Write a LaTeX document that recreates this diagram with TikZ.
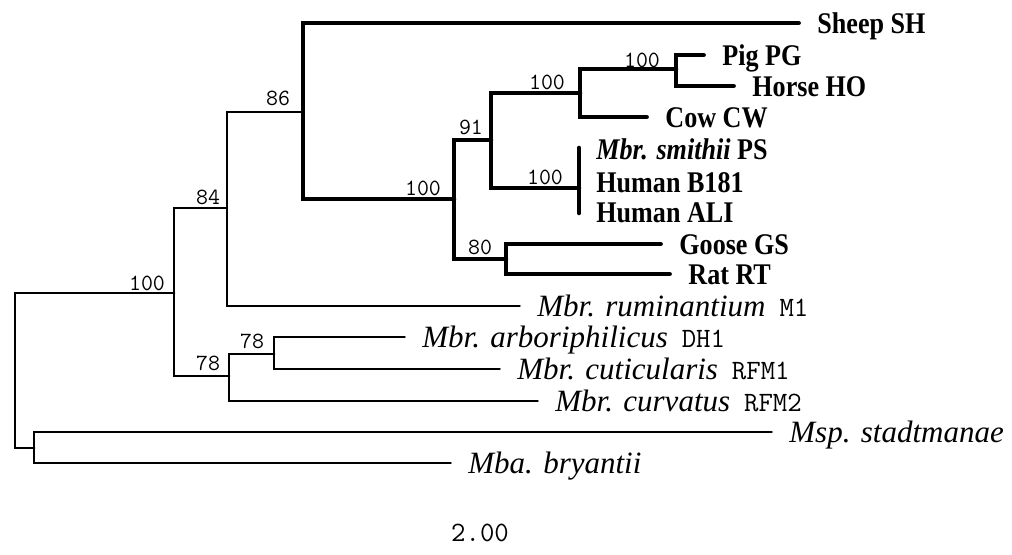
\documentclass[tikz,border=0pt]{standalone}
\usepackage{fontspec}
\setmainfont{Liberation Serif}
\newfontfamily\hostfont[FakeStretch=0.87]{Liberation Serif}
\usepackage{tikz}

\tikzset{
  thinbr/.style={line width=1.4pt, line cap=round},
  thickbr/.style={line width=2.3pt, line cap=round},
  taxon/.style={anchor=west, inner sep=0pt, text height=10pt, text depth=0pt,
    font=\fontsize{15.5pt}{17pt}\selectfont\itshape},
  host/.style={taxon, font=\hostfont\fontsize{15pt}{17pt}\selectfont\bfseries},
  boot/.style={inner sep=0pt, font=\ttfamily\fontsize{11.6pt}{13pt}\selectfont},
}
\newcommand{\strain}[1]{\hspace{0.45em}{\upshape\ttfamily\fontsize{14pt}{16pt}\selectfont #1}}

\begin{document}
\begin{tikzpicture}[x=0.5pt, y=-0.5pt]
    \useasboundingbox (0,0) rectangle (1012,554);
    % branch points
    \coordinate (r) at (15,370);
    \coordinate (a) at (174,293);
    \coordinate (b) at (227,208);
    \coordinate (c) at (303,112);
    \coordinate (d) at (454,199);
    \coordinate (e) at (491,140);
    \coordinate (f) at (580,93);
    \coordinate (k) at (676,69);
    \coordinate (h) at (506,259);
    \coordinate (g) at (229,376);
    \coordinate (i) at (274,354);
    \coordinate (m) at (34,448);
    % polytomy bar
    \coordinate (pm) at (579,188);
    \coordinate (pt) at (579,148);
    \coordinate (pb) at (579,213);

    % host-associated taxa
    \node[host] (sheep) at (817,23) {Sheep SH};
    \node[host] (pig) at (722,55) {Pig PG};
    \node[host] (horse) at (752,86) {Horse HO};
    \node[host] (cow) at (665,117) {Cow CW};
    \node[host] (smithii) at (596,149) {\textit{Mbr. smithii} PS};
    \node[host] (b181) at (596,182) {Human B181};
    \node[host] (ali) at (596,212) {Human ALI};
    \node[host] (goose) at (679,244) {Goose GS};
    \node[host] (rat) at (688,274) {Rat RT};

    % type strains
    \node[taxon] (rum) at (537,306) {Mbr. ruminantium\strain{M1}};
    \node[taxon] (arb) at (422,337) {Mbr. arboriphilicus\strain{DH1}};
    \node[taxon] (cut) at (517,369) {Mbr. cuticularis\strain{RFM1}};
    \node[taxon] (curv) at (555,401) {Mbr. curvatus\strain{RFM2}};
    \node[taxon] (msp) at (789,432) {Msp. stadtmanae};
    \node[taxon] (mba) at (468,463) {Mba. bryantii};

    % thin branches
    \foreach \u/\v in {r/a, r/m, a/b, a/g, b/c, g/i}
      \draw[thinbr] (\u) |- (\v);
    \foreach \u/\v in {b/rum, g/curv, i/arb, i/cut, m/msp, m/mba}
      \draw[thinbr, shorten >=8.7pt] (\u) |- (\v.west);

    % thick branches
    \foreach \u/\v in {c/d, d/e, d/h, e/f, e/pm, f/k}
      \draw[thickbr] (\u) |- (\v);
    \foreach \u/\v in {c/sheep, f/cow, k/pig, k/horse, h/goose, h/rat}
      \draw[thickbr, shorten >=9.2pt] (\u) |- (\v.west);
    \draw[thickbr] (pt) -- (pb);

    % bootstrap values
    \node[boot] (bs1) at (147,283) {100};
    \node[boot] (bs2) at (208,197) {84};
    \node[boot] (bs3) at (278,98) {86};
    \node[boot] (bs4) at (423,188) {100};
    \node[boot] (bs5) at (471,127) {91};
    \node[boot] (bs6) at (547,82) {100};
    \node[boot] (bs7) at (642,60) {100};
    \node[boot] (bs8) at (545,177) {100};
    \node[boot] (bs9) at (480,247) {80};
    \node[boot] (bs10) at (208,363) {78};
    \node[boot] (bs11) at (252,341) {78};

    % scale
    \node[boot, font=\ttfamily\fontsize{14pt}{16pt}\selectfont] (scale) at (480,533) {2.00};
  \end{tikzpicture}
\end{document}
